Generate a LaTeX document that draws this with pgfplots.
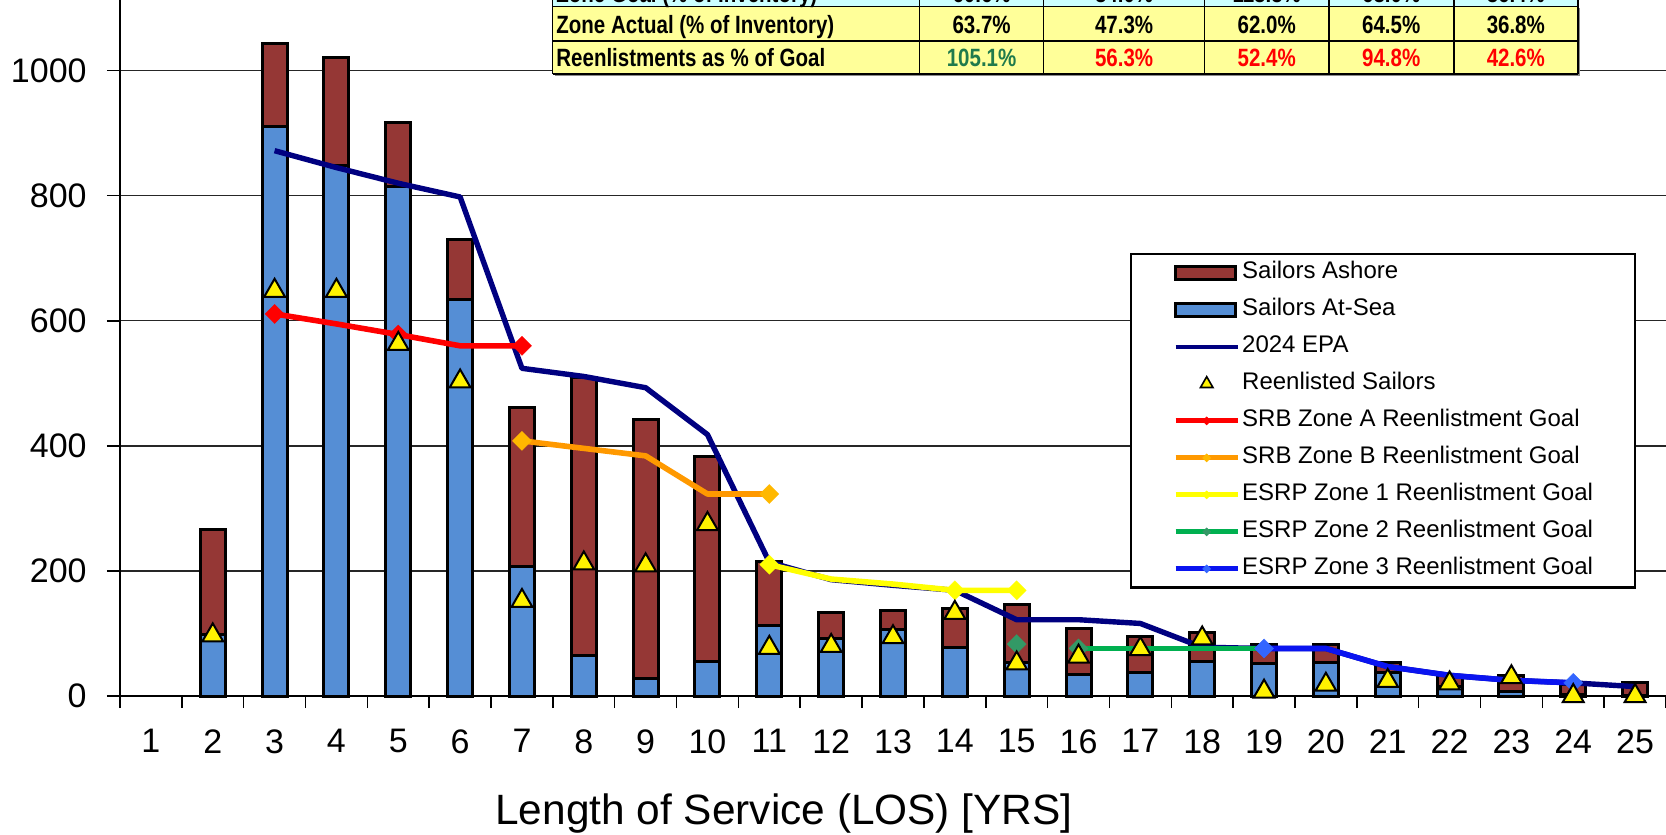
\documentclass[border=0pt]{standalone}
\usepackage{pgfplots}
\pgfplotsset{compat=1.18}
\usepackage{pgfplotstable}
\usepackage{fontspec}
\setmainfont{Liberation Sans}
\newfontfamily\narrowbold{Liberation Sans}[FakeStretch=0.82]

\definecolor{ashore}{RGB}{149,55,53}
\definecolor{atsea}{RGB}{85,142,213}
\definecolor{epanavy}{RGB}{0,0,128}
\definecolor{goalred}{RGB}{255,0,0}
\definecolor{goalorange}{RGB}{255,153,0}
\definecolor{markorange}{RGB}{255,184,0}
\definecolor{goalyellow}{RGB}{255,255,0}
\definecolor{goalgreen}{RGB}{0,176,80}
\definecolor{markgreen}{RGB}{51,153,102}
\definecolor{goalblue}{RGB}{10,20,240}
\definecolor{markblue}{RGB}{51,102,255}
\definecolor{tabyellow}{RGB}{255,255,153}
\definecolor{tabcyan}{RGB}{204,255,255}
\definecolor{tabgreen}{RGB}{31,122,76}

\pgfplotstableread{
x total atsea reen
2 267 99 97
3 1044 910 648
4 1021 849 648
5 917 815 563
6 730 634 503
7 462 207 152
8 510 64 212
9 442 28 209
10 383 55 275
11 215 112 77
12 134 92 80
13 136 106 94
14 140 78 133
15 147 53 52
16 108 34 63
17 95 37 75
18 101 55 92
19 83 52 7
20 83 53 18
21 54 38 24
22 32 15 20
23 32 7 30
24 19 2 0
25 22 1 0
}\losdata

\pgfplotsset{
  barleg/.style={legend image code/.code={\draw[##1] (0pt,-3.25pt) rectangle (30pt,3.25pt);}},
  lineleg/.style={legend image code/.code={\draw[mark repeat=2,mark phase=2,##1] plot coordinates {(0pt,0pt) (15.5pt,0pt) (31pt,0pt)};}},
  markleg/.style={legend image code/.code={\draw[##1] plot coordinates {(15.5pt,0pt)};}},
  goal/.style={line width=2.8pt, line join=round, no marks, forget plot},
  endmark/.style={only marks, color=#1, mark=square*, mark size=3.4pt, mark options={rotate=45, draw=#1, line width=0.1pt, fill=#1}, forget plot},
}

\begin{document}
\begin{tikzpicture}
\begin{axis}[
  scale only axis, width=773pt, height=348pt,
  xmin=0.5, xmax=25.5, ymin=0, ymax=1113,
  clip=false,
  axis lines*=left,
  axis line style={black, line width=0.9pt},
  xtick={1,...,25},
  xticklabels={1,2,3,4,5,6,7,8,9,10,11,12,13,14,15,16,17,18,19,20,21,22,23,24,25},
  minor xtick={0.5,1.5,...,25.5},
  ytick={0,200,400,600,800,1000},
  yticklabels={0,200,400,600,800,1000},
  tick align=outside,
  major tick length=6.5pt,
  minor tick length=6pt,
  major x tick style={draw=none},
  minor x tick style={draw=black, line width=0.75pt},
  ytick style={draw=black, line width=0.75pt},
  ymajorgrids,
  grid style={black!85, line width=0.7pt},
  ticklabel style={font=\fontsize{17}{20}\selectfont, inner sep=0pt},
  yticklabel style={xshift=-10pt},
  xticklabel style={yshift=-10pt},
  xlabel={Length of Service (LOS) [YRS]},
  xlabel style={font=\fontsize{21.2}{24}\selectfont, at={(axis description cs:0.4295,0)}, anchor=center, yshift=-59pt},
  legend style={
    at={(0.6533,0.6365)}, anchor=north west,
    draw=black, line width=1.2pt, fill=white,
    inner xsep=21pt, inner ysep=3.6pt,
    row sep=7pt, column sep=1pt,
    font=\fontsize{12}{14}\selectfont,
    nodes={inner sep=0pt, text height=8.6pt, text depth=2.9pt},
  },
  legend cell align=left,
]
% legend entries
\addlegendimage{barleg, fill=ashore, draw=black, line width=1.5pt}
\addlegendentry{Sailors Ashore}
\addlegendimage{barleg, fill=atsea, draw=black, line width=1.5pt}
\addlegendentry{Sailors At-Sea}
\addlegendimage{lineleg, color=epanavy, line width=2.2pt, mark=none}
\addlegendentry{2024 EPA}
\addlegendimage{markleg, only marks, mark=triangle*, mark size=3.6pt, mark options={fill=yellow, draw=black, line width=0.8pt}}
\addlegendentry{Reenlisted Sailors}
\addlegendimage{lineleg, color=goalred, line width=2.5pt, mark=square*, mark size=1.4pt, mark options={rotate=45, line width=0.3pt}}
\addlegendentry{SRB Zone A Reenlistment Goal}
\addlegendimage{lineleg, color=goalorange, line width=2.5pt, mark=square*, mark size=1.4pt, mark options={rotate=45, line width=0.3pt, fill=markorange, draw=markorange}}
\addlegendentry{SRB Zone B Reenlistment Goal}
\addlegendimage{lineleg, color=goalyellow, line width=2.5pt, mark=square*, mark size=1.4pt, mark options={rotate=45, line width=0.3pt}}
\addlegendentry{ESRP Zone 1 Reenlistment Goal}
\addlegendimage{lineleg, color=goalgreen, line width=2.5pt, mark=square*, mark size=1.4pt, mark options={rotate=45, line width=0.3pt, fill=markgreen, draw=markgreen}}
\addlegendentry{ESRP Zone 2 Reenlistment Goal}
\addlegendimage{lineleg, color=goalblue, line width=2.5pt, mark=square*, mark size=1.4pt, mark options={rotate=45, line width=0.3pt, fill=markblue, draw=markblue}}
\addlegendentry{ESRP Zone 3 Reenlistment Goal}

% bars: total (ashore on top) then at-sea
\addplot[ybar, bar width=12.5pt, bar shift=0pt, fill=ashore, draw=black, line width=1.5pt, forget plot] table[x=x, y=total] {\losdata};
\addplot[ybar, bar width=12.5pt, bar shift=0pt, fill=atsea, draw=black, line width=1.5pt, forget plot] table[x=x, y=atsea] {\losdata};

% 2024 EPA
\addplot[color=epanavy, line width=2.7pt, line join=round, no marks, forget plot] coordinates {
(3,872) (4,845) (5,820) (6,798) (7,524) (8,511) (9,493) (10,418) (11,214) (12,186) (13,177) (14,169) (15,122) (16,122) (17,116) (18,78) (19,76) (20,76) (21,47) (22,33) (23,25) (24,21) (25,15)};

% goals
\addplot[goal, color=goalred] coordinates {(3,611) (4,595) (5,578) (6,560) (7,560)};
\addplot[endmark=goalred] coordinates {(3,611) (5,578) (7,560)};
\addplot[goal, color=goalorange] coordinates {(7,408) (8,396) (9,384) (10,323) (11,323)};
\addplot[endmark=markorange] coordinates {(7,408) (11,323)};
\addplot[goal, color=goalyellow] coordinates {(11,210) (12,187) (13,179) (14,169) (15,169)};
\addplot[endmark=goalyellow] coordinates {(11,210) (14,169) (15,169)};
\addplot[goal, color=goalgreen] coordinates {(16,76) (17,76) (18,76) (19,76)};
\addplot[endmark=markgreen] coordinates {(15,83) (16,76)};
\addplot[goal, color=goalblue] coordinates {(19,76) (20,76) (21,47) (22,33) (23,25) (24,21)};
\addplot[endmark=markblue] coordinates {(19,76) (24,21)};

% reenlisted sailors
\addplot[only marks, mark=triangle*, mark size=6pt, mark options={fill=yellow, draw=black, line width=1pt}, forget plot] table[x=x, y=reen] {\losdata};
\end{axis}

% summary table (top row cut by the page edge)
\fill[black!45] (217.5pt,309.8pt) rectangle (730.2pt,344pt);
\fill[tabcyan] (216.25pt,344.65pt) rectangle (728.95pt,362pt);
\fill[tabyellow] (216.25pt,311pt) rectangle (728.95pt,344.65pt);
\draw[black, line width=0.8pt] (216.25pt,311pt) -- (728.95pt,311pt)
  (216.25pt,327.5pt) -- (728.95pt,327.5pt)
  (216.25pt,344.65pt) -- (728.95pt,344.65pt);
\foreach \xx in {216.25,399.8,461.8,542.3,604.4,666.85,728.95}
  \draw[black, line width=0.8pt] (\xx pt,311pt) -- (\xx pt,362pt);
\begin{scope}[every node/.style={inner sep=0pt, font=\narrowbold\bfseries\fontsize{12.5}{14}\selectfont}]
\node[anchor=base west] at (218pt,346.8pt) {Zone Goal (\% of Inventory)};
\node[anchor=base west] at (218pt,331.3pt) {Zone Actual (\% of Inventory)};
\node[anchor=base west] at (218pt,314.7pt) {Reenlistments as \% of Goal};
\node[anchor=base] at (430.8pt,346.8pt) {60.6\%};
\node[anchor=base] at (502.05pt,346.8pt) {84.0\%};
\node[anchor=base] at (573.35pt,346.8pt) {118.3\%};
\node[anchor=base] at (635.6pt,346.8pt) {68.0\%};
\node[anchor=base] at (697.9pt,346.8pt) {86.4\%};
\node[anchor=base] at (430.8pt,331.3pt) {63.7\%};
\node[anchor=base] at (502.05pt,331.3pt) {47.3\%};
\node[anchor=base] at (573.35pt,331.3pt) {62.0\%};
\node[anchor=base] at (635.6pt,331.3pt) {64.5\%};
\node[anchor=base] at (697.9pt,331.3pt) {36.8\%};
\node[anchor=base, text=tabgreen] at (430.8pt,314.7pt) {105.1\%};
\node[anchor=base, text=red] at (502.05pt,314.7pt) {56.3\%};
\node[anchor=base, text=red] at (573.35pt,314.7pt) {52.4\%};
\node[anchor=base, text=red] at (635.6pt,314.7pt) {94.8\%};
\node[anchor=base, text=red] at (697.9pt,314.7pt) {42.6\%};
\end{scope}

\pgfresetboundingbox
\path[use as bounding box] (-60pt,-69.5pt) rectangle (773pt,348pt);
\end{tikzpicture}
\end{document}
